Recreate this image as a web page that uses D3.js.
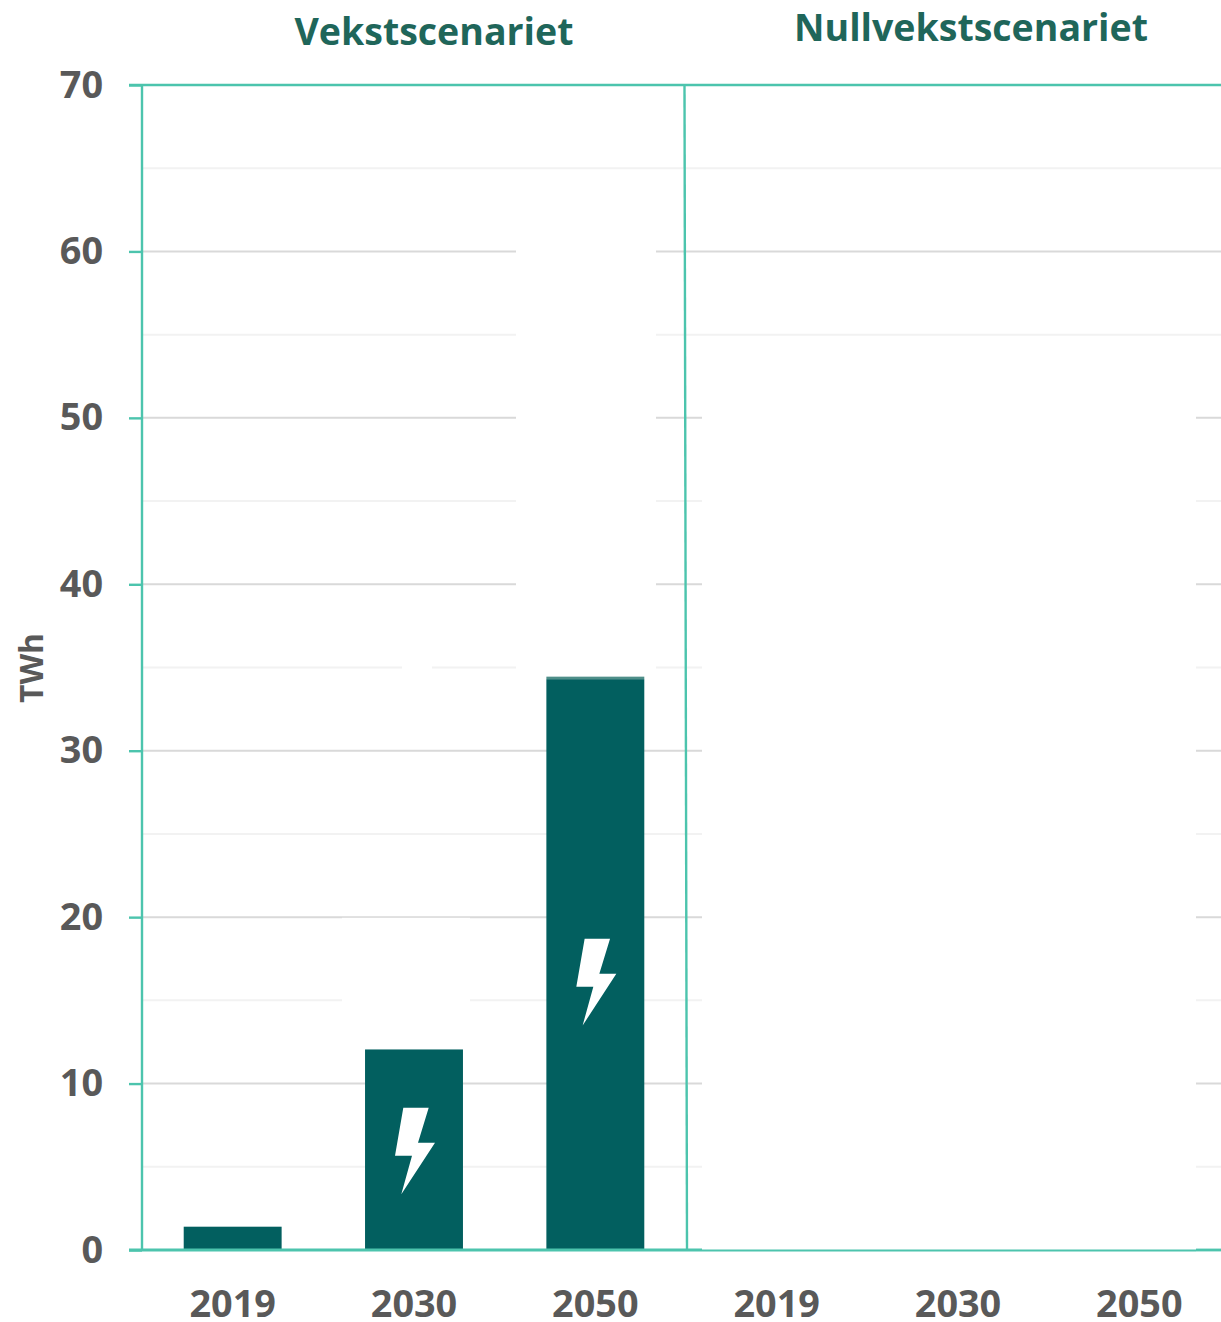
<!DOCTYPE html>
<html lang="no">
<head>
<meta charset="utf-8">
<title>Vekstscenariet og Nullvekstscenariet</title>
<script src="https://cdn.jsdelivr.net/npm/d3@7/dist/d3.min.js"></script>
<style>
  html, body { margin: 0; padding: 0; background: #fff; overflow: hidden; }
  svg { display: block; }
  text { font-family: "Open Sans", sans-serif; font-weight: 700; }
</style>
</head>
<body>
<svg id="chart" width="1221" height="1322"></svg>
<script>
// Chart content
const years = ["2019", "2030", "2050"];
const scenarios = ["Vekstscenariet", "Nullvekstscenariet"];
const growthValues = [1.4, 12.05, 34.3];
const growthCapValues = [0, 0, 0.15];
const zeroGrowthValues = [0, 0, 0];
const boltValues = [null, 5.95, 16.1];
const majorTicks = [0, 10, 20, 30, 40, 50, 60, 70];
const minorTicks = [5, 15, 25, 35, 45, 55, 65];

const colors = {
  axis: "#4cc4ad", major: "#d9d9d9", minor: "#f2f2f2",
  bar: "#025f5f", cap: "#4f8f89", label: "#595959", title: "#1f665a"
};

const svg = d3.select("#chart");
const y = d3.scaleLinear().domain([0, 70]).range([1250, 85]);
const panels = [[142, 686], [686, 1230]].map(r =>
  d3.scaleBand().domain(years).range(r).paddingInner(0.46).paddingOuter(0.23));

// Gridlines span the full width
const grid = svg.append("g");
const drawGrid = (ticks, color) => grid.selectAll(null).data(ticks).join("line")
  .attr("x1", 142).attr("x2", 1221)
  .attr("y1", d => y(d)).attr("y2", d => y(d))
  .attr("stroke", color).attr("stroke-width", 2);
drawGrid(minorTicks, colors.minor);
drawGrid(majorTicks.filter(d => d > 0 && d < 70), colors.major);

// Blank panels laid over the gridlines: [x0, x1, top value, bottom value]
const blanks = [
  [516, 656, 63, 34.4],
  [342, 470, 19.96, 12],
  [402, 432, 35.4, 34.5],
  [702, 1196, 52.5, 0.05]
];
svg.append("g").selectAll("rect").data(blanks).join("rect")
  .attr("x", d => d[0]).attr("width", d => d[1] - d[0])
  .attr("y", d => y(d[2])).attr("height", d => y(d[3]) - y(d[2]))
  .attr("fill", "#fff");

// Bars of the growth scenario, with the thin lighter segment stacked on top
const x0 = panels[0];
const bars = svg.append("g");
bars.selectAll("rect.main").data(years).join("rect").attr("class", "main")
  .attr("x", d => x0(d)).attr("width", x0.bandwidth())
  .attr("y", (d, i) => y(growthValues[i]))
  .attr("height", (d, i) => y(0) - y(growthValues[i]))
  .attr("fill", colors.bar);
bars.selectAll("rect.cap").data(years.filter((d, i) => growthCapValues[i] > 0)).join("rect").attr("class", "cap")
  .attr("x", d => x0(d)).attr("width", x0.bandwidth())
  .attr("y", d => y(growthValues[years.indexOf(d)] + growthCapValues[years.indexOf(d)]))
  .attr("height", d => y(0) - y(growthCapValues[years.indexOf(d)]))
  .attr("fill", colors.cap);

// Zero-growth scenario has no height at any year
const x1 = panels[1];
svg.append("g").selectAll("rect").data(years).join("rect")
  .attr("x", d => x1(d)).attr("width", x1.bandwidth())
  .attr("y", (d, i) => y(zeroGrowthValues[i]))
  .attr("height", (d, i) => y(0) - y(zeroGrowthValues[i]))
  .attr("fill", colors.bar);

// Lightning bolt, centred on a bar at a given value
const boltShape = [[-10.7, -43.3], [14.7, -43.3], [4, -8.3], [21, -8.3], [-12.7, 43.4], [-2, 4.7], [-19, 4.7]];
svg.append("g").selectAll("polygon")
  .data(years.map((d, i) => ({ year: d, value: boltValues[i] })).filter(d => d.value !== null))
  .join("polygon")
  .attr("points", boltShape.map(p => p.join(",")).join(" "))
  .attr("transform", d => `translate(${x0(d.year) + x0.bandwidth() / 2},${y(d.value)})`)
  .attr("fill", "#fff");

// Frame lines
const frame = svg.append("g").attr("stroke", colors.axis).attr("fill", "none");
frame.append("line").attr("x1", 142).attr("x2", 142).attr("y1", y(70)).attr("y2", y(0)).attr("stroke-width", 2.4);
frame.append("line").attr("x1", 684.5).attr("x2", 687).attr("y1", y(70)).attr("y2", y(0)).attr("stroke-width", 2.4);
frame.append("line").attr("x1", 129).attr("x2", 1221).attr("y1", y(70)).attr("y2", y(70)).attr("stroke-width", 2.4);
frame.append("line").attr("x1", 702).attr("x2", 1196).attr("y1", y(0) + 0.5).attr("y2", y(0) + 0.5).attr("stroke-width", 1.8);
frame.append("line").attr("x1", 129).attr("x2", 702).attr("y1", y(0)).attr("y2", y(0)).attr("stroke-width", 2.8);
frame.append("line").attr("x1", 1196).attr("x2", 1221).attr("y1", y(0)).attr("y2", y(0)).attr("stroke-width", 2.8);

// Value axis
const yAxis = svg.append("g").attr("transform", "translate(142,0)")
  .call(d3.axisLeft(y).tickValues(majorTicks).tickSize(13).tickPadding(26));
yAxis.select(".domain").remove();
yAxis.selectAll(".tick line").attr("stroke", colors.axis).attr("stroke-width", 2.4);
yAxis.selectAll("text")
  .attr("fill", colors.label).style("font-size", "37.8px").attr("dy", "0.32em");

// Category axes
panels.forEach(scale => {
  const axis = svg.append("g").attr("transform", `translate(0,${y(0)})`)
    .call(d3.axisBottom(scale).tickSize(0).tickPadding(54));
  axis.select(".domain").remove();
  axis.selectAll("text")
    .attr("fill", colors.label).style("font-size", "37.8px").attr("dy", "0.35em");
});

// Unit label
svg.append("text")
  .attr("transform", "translate(43,668) rotate(-90)")
  .attr("text-anchor", "middle")
  .attr("fill", colors.label)
  .style("font-size", "31.8px")
  .text("TWh");

// Scenario headings
svg.selectAll("text.heading").data(scenarios).join("text").attr("class", "heading")
  .attr("x", (d, i) => [434, 971][i])
  .attr("y", (d, i) => [45, 41][i])
  .attr("text-anchor", "middle")
  .attr("fill", colors.title)
  .style("font-size", "37.5px")
  .text(d => d);
</script>
</body>
</html>
